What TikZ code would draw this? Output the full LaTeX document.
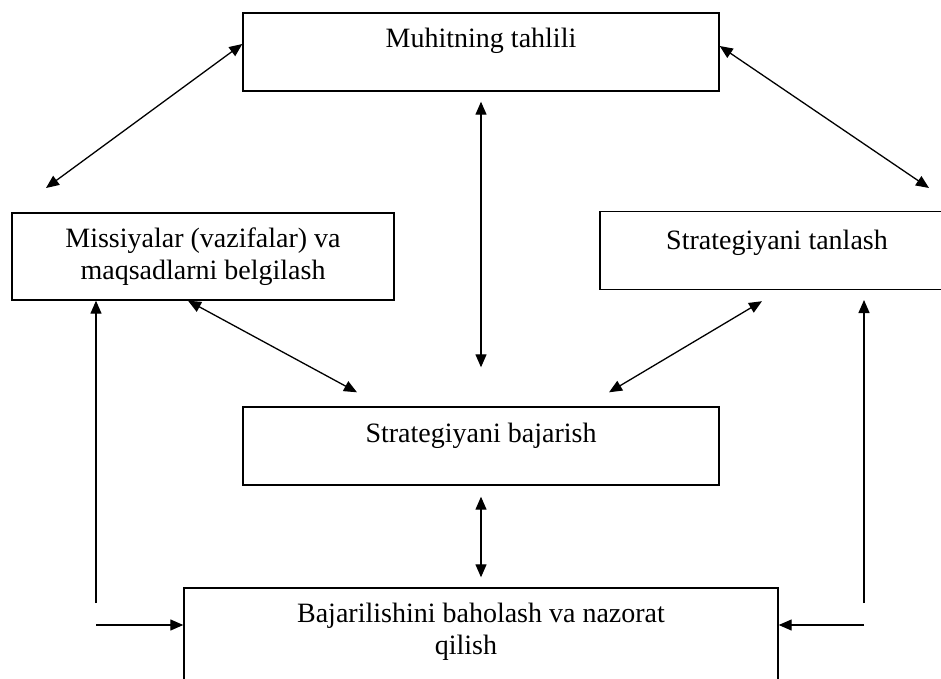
\documentclass[tikz,border=0pt]{standalone}
\usepackage{fontspec}
\setmainfont{Liberation Serif}
\usetikzlibrary{arrows.meta}

\begin{document}
\begin{tikzpicture}[x=1pt,y=-1pt,
		box/.style={draw, line width=1.4pt, inner sep=0pt, align=center, font=\fontsize{28}{32}\selectfont},
		dbl/.style={{Triangle[length=13pt,width=11pt]}-{Triangle[length=13pt,width=11pt]}, line width=1.3pt},
		one/.style={-{Triangle[length=13pt,width=11pt]}, line width=1.3pt}]
		\useasboundingbox (0,0) rectangle (941,679);
		\node[box, minimum width=476pt, minimum height=78pt, text height=19pt, text depth=27pt] (muhit) at (481,52) {Muhitning tahlili};
		\node[box, minimum width=382pt, minimum height=87pt] (missiya) at (203,256.5) {Missiyalar (vazifalar) va\\maqsadlarni belgilash};
		\node[box, minimum width=354pt, minimum height=78pt, text height=19pt, text depth=21pt] (tanlash) at (777,250.5) {Strategiyani tanlash};
		\node[box, minimum width=476pt, minimum height=78pt, text height=19pt, text depth=26pt] (bajar) at (481,446) {Strategiyani bajarish};
		\node[box, minimum width=594pt, minimum height=102pt] (baho) at (481,639) {Bajarilishini baholash va nazorat\\qilish\hspace*{30pt}\rule[-20pt]{0pt}{0pt}};
		\coordinate (tl) at (46,188);
		\coordinate (tr) at (929,188);
		\coordinate (lb) at (96,603);
		\coordinate (lh) at (96,625);
		\coordinate (rb) at (864,603);
		\coordinate (rt) at (864,300);
		\coordinate (rh) at (864,625);
		\draw[dbl] ([yshift=8pt]muhit.west) -- (tl);
		\draw[dbl] ([yshift=6pt]muhit.east) -- (tr);
		\draw[dbl] ([yshift=-10pt]muhit.south) -- ([yshift=39pt]bajar.north);
		\draw[dbl] ([xshift=-15pt]missiya.south) -- ([xshift=-124pt,yshift=14pt]bajar.north);
		\draw[dbl] ([xshift=-15pt,yshift=-11pt]tanlash.south) -- ([xshift=128pt,yshift=14pt]bajar.north);
		\draw[dbl] ([yshift=-11pt]bajar.south) -- ([yshift=10pt]baho.north);
		\draw[one] (lb) -- (lb |- missiya.south);
		\draw[one] (lh) -- (lh -| baho.west);
		\draw[one] (rb) -- (rt);
		\draw[one] (rh) -- (rh -| baho.east);
\end{tikzpicture}
\end{document}
